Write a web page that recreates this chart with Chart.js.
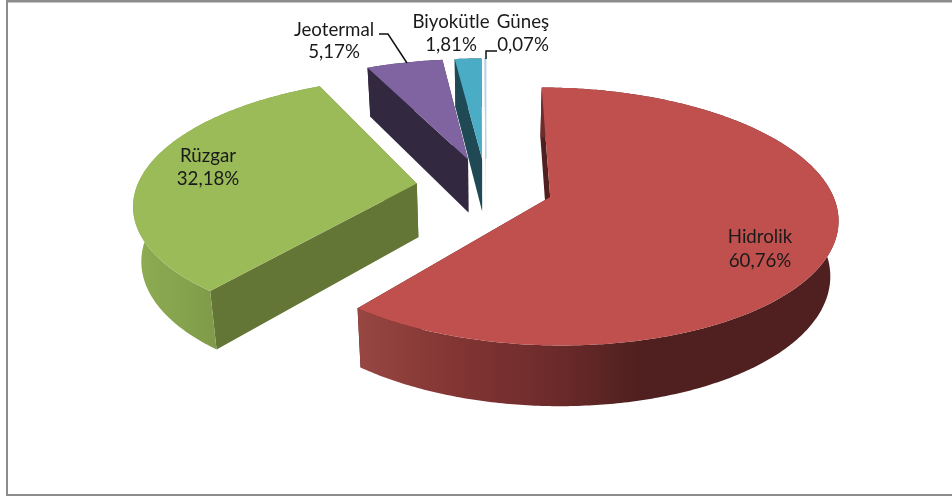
<!DOCTYPE html>
<html>
<head>
<meta charset="utf-8">
<style>
    html, body { margin: 0; padding: 0; background: #fff; }
    canvas { display: block; }
</style>
<script src="https://cdn.jsdelivr.net/npm/chart.js@4/dist/chart.umd.min.js"></script>
</head>
<body>
<canvas id="chart" width="952" height="496"></canvas>
<script>
const categories = ['Hidrolik', 'Rüzgar', 'Jeotermal', 'Biyokütle', 'Güneş'];
const shares = [60.76, 32.18, 5.17, 1.81, 0.07];

const topColors = ['#bf504e', '#9bbb59', '#8064a2', '#4bacc6', '#b9cfe8'];
const cutColors = ['#4f201f', '#647636', '#32283f', '#1f4a55', '#b9cfe8'];
const wallStops = [
    [[360, '#974642'], [450, '#833634'], [550, '#6e2b2b'], [640, '#4f201f']],
    [[140, '#8dab52'], [217, '#7f9b49']],
    [[370, '#32283f'], [444, '#32283f']],
    [[456, '#1f4a55'], [483, '#1f4a55']],
    [[484, '#b9cfe8'], [486, '#b9cfe8']]
];
const explode = [192, 200, 192, 192, 192];

// centre lines of the two text rows of each label
const labelSpots = [[760, 237, 261], [208, 156, 179], [334, 30, 52], [451, 22, 45], [523, 22, 45]];
const leaders = [
    [[379, 34], [388, 34], [407, 63]],
    [[497, 51], [486, 51], [486, 59]]
];

// pie plane to screen, with perspective; z = 1 is the bottom of the slab
const view = { cx: 486, cy: 187, a: 280, b: 123, p: 0.15, shrink: 0.024, depth: 54 };

function project(u, v, z) {
    const w = 1 - view.p * v;
    const s = 1 + view.shrink * z;
    return [view.cx + view.a * u / (w * s), view.cy + (view.b * v / s + view.depth * z) / w];
}

function trace(ctx, points) {
    ctx.beginPath();
    points.forEach((pt, i) => i ? ctx.lineTo(pt[0], pt[1]) : ctx.moveTo(pt[0], pt[1]));
    ctx.closePath();
}

function drawSlice(ctx, arc, index) {
    const offset = arc.options.offset / 4 / arc.outerRadius;
    const mid = (arc.startAngle + arc.endAngle) / 2;
    const ou = Math.cos(mid) * offset;
    const ov = Math.sin(mid) * offset;
    const steps = Math.max(2, Math.ceil((arc.endAngle - arc.startAngle) * 90));
    const rim = z => {
        const pts = [];
        for (let i = 0; i <= steps; i++) {
            const t = arc.startAngle + (arc.endAngle - arc.startAngle) * i / steps;
            pts.push(project(ou + Math.cos(t), ov + Math.sin(t), z));
        }
        return pts;
    };
    const top = rim(0);
    const bottom = rim(1);
    const apexTop = project(ou, ov, 0);
    const apexBottom = project(ou, ov, 1);

    // cut faces
    ctx.fillStyle = cutColors[index];
    trace(ctx, [apexTop, top[0], bottom[0], apexBottom]);
    ctx.fill();
    trace(ctx, [apexTop, top[steps], bottom[steps], apexBottom]);
    ctx.fill();

    // outer wall
    const stops = wallStops[index];
    const x0 = stops[0][0];
    const x1 = stops[stops.length - 1][0];
    const grad = ctx.createLinearGradient(x0, 0, x1, 0);
    stops.forEach(s => grad.addColorStop((s[0] - x0) / (x1 - x0), s[1]));
    ctx.fillStyle = grad;
    trace(ctx, top.concat(bottom.slice().reverse()));
    ctx.fill();

    // top face
    trace(ctx, [apexTop].concat(top));
    ctx.fillStyle = arc.options.backgroundColor;
    ctx.fill();
    if (arc.options.borderWidth) {
        ctx.strokeStyle = arc.options.backgroundColor;
        ctx.lineWidth = arc.options.borderWidth;
        ctx.stroke();
    }
}

const slab = {
    id: 'slab',
    beforeDraw(chart) {
        const ctx = chart.ctx;
        ctx.fillStyle = '#8c8c8c';
        ctx.fillRect(6, 0, 946, 2.5);
        ctx.fillRect(6, 0, 2, 496);
        ctx.fillRect(6, 494, 946, 2);
    },
    beforeDatasetDraw(chart, args) {
        const ctx = chart.ctx;
        const arcs = args.meta.data;
        ctx.save();
        for (let i = arcs.length - 1; i >= 0; i--) {
            drawSlice(ctx, arcs[i], i);
        }
        ctx.restore();
        return false;
    },
    afterDatasetsDraw(chart) {
        const ctx = chart.ctx;
        ctx.save();
        ctx.strokeStyle = '#111';
        ctx.lineWidth = 1.5;
        leaders.forEach(line => {
            ctx.beginPath();
            line.forEach((pt, i) => i ? ctx.lineTo(pt[0], pt[1]) : ctx.moveTo(pt[0], pt[1]));
            ctx.stroke();
        });
        ctx.font = '18.7px Lato';
        ctx.fillStyle = '#1a1a1a';
        ctx.textAlign = 'center';
        ctx.textBaseline = 'middle';
        categories.forEach((name, i) => {
            const spot = labelSpots[i];
            ctx.fillText(name, spot[0], spot[1]);
            ctx.fillText(shares[i].toFixed(2).replace('.', ',') + '%', spot[0], spot[2]);
        });
        ctx.restore();
    }
};

new Chart(document.getElementById('chart'), {
    type: 'pie',
    data: {
        labels: categories,
        datasets: [{
            data: shares,
            backgroundColor: topColors,
            borderWidth: [0, 0, 0, 0, 1],
            offset: explode
        }]
    },
    options: {
        responsive: false,
        animation: false,
        radius: 200,
        plugins: { legend: { display: false }, tooltip: { enabled: false } }
    },
    plugins: [slab]
});
</script>
</body>
</html>
